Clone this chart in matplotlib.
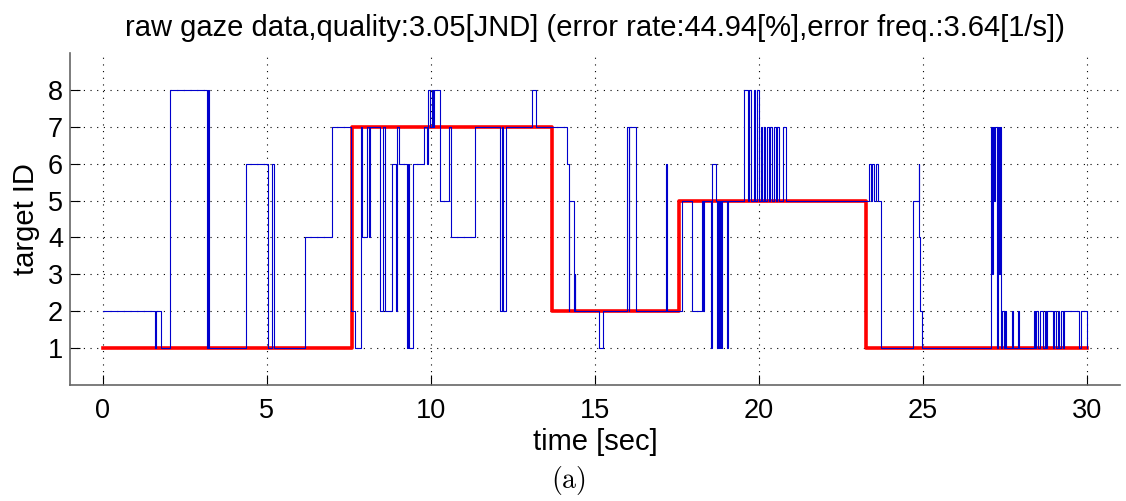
import numpy as np
import matplotlib
matplotlib.use('Agg')
import matplotlib.pyplot as plt

plt.rcParams['font.family'] = ['Liberation Sans', 'DejaVu Sans']
plt.rcParams['mathtext.fontset'] = 'cm'

# raw gaze data (step changes: time [sec], target ID)
gaze_t = [0.00, 1.58, 1.62, 1.78, 2.04, 3.18, 3.20, 3.25, 4.37, 5.02, 5.16, 5.23,
          6.17, 6.99, 7.55, 7.67, 7.87, 7.90, 8.05, 8.10, 8.15, 8.46, 8.55, 8.60,
          8.80, 8.93, 8.97, 9.02, 9.26, 9.30, 9.33, 9.44, 9.80, 9.87, 9.90, 9.98,
          10.02, 10.06, 10.10, 10.27, 10.56, 10.60, 11.35, 12.10, 12.15, 12.18,
          12.30, 13.07, 13.21, 14.15, 14.20, 14.22, 14.35, 14.38, 14.40, 15.12,
          15.24, 15.98, 16.02, 16.05, 16.26, 17.15, 17.18, 17.66, 17.94, 18.26,
          18.30, 18.33, 18.52, 18.57, 18.70, 18.73, 18.76, 18.79, 18.82, 18.85,
          18.88, 19.02, 19.05, 19.53, 19.67, 19.70, 19.75, 19.85, 19.88, 19.93,
          20.00, 20.05, 20.10, 20.14, 20.18, 20.24, 20.30, 20.34, 20.40, 20.46,
          20.52, 20.56, 20.60, 20.72, 20.82, 23.35, 23.40, 23.44, 23.50, 23.55,
          23.61, 23.71, 24.68, 24.86, 24.88, 24.90, 24.96, 27.06, 27.10, 27.13,
          27.17, 27.20, 27.24, 27.27, 27.30, 27.33, 27.37, 27.40, 27.45, 27.48,
          27.52, 27.70, 27.75, 27.90, 27.93, 28.38, 28.42, 28.45, 28.50, 28.55,
          28.65, 28.70, 28.74, 28.78, 28.95, 29.00, 29.05, 29.10, 29.15, 29.20,
          29.25, 29.30, 29.75, 29.80, 29.98]
gaze_id = [2, 1, 2, 1, 8, 1, 8, 1, 6, 1, 6, 1,
           4, 7, 2, 1, 7, 4, 7, 4, 7, 2, 7, 2,
           6, 2, 7, 6, 1, 6, 1, 6, 7, 6, 8, 7,
           8, 7, 8, 5, 7, 4, 7, 2, 7, 2,
           7, 8, 7, 6, 2, 5, 2, 3, 2, 1,
           2, 7, 2, 7, 2, 6, 2, 5, 2, 5,
           2, 5, 1, 6, 5, 1, 5, 1, 5, 1,
           5, 1, 5, 8, 5, 8, 5, 8, 5, 8,
           5, 7, 5, 7, 5, 7, 5, 7, 5, 7,
           5, 7, 5, 7, 5, 6, 5, 6, 5, 6,
           5, 1, 5, 6, 4, 2, 1, 7, 3, 7,
           5, 7, 1, 7, 3, 7, 1, 2, 1, 2,
           1, 2, 1, 2, 1, 2, 1, 2, 1, 2,
           1, 2, 1, 2, 1, 2, 1, 2, 1, 2,
           1, 2, 1, 2, 1]

# true target (step changes)
target_t = [0.0, 7.58, 13.69, 17.55, 23.27, 30.0]
target_id = [1, 7, 2, 5, 1, 1]

fig = plt.figure(figsize=(11.26, 5.01), dpi=100)
ax = fig.add_axes([0.0622, 0.2315, 0.9325, 0.6627])

ax.step(target_t, target_id, where='post', color='#ff0000', lw=2.6, zorder=2)
ax.step(gaze_t, gaze_id, where='post', color='#0000cc', lw=0.8, zorder=3)

ax.set_xlim(-1, 31)
ax.set_ylim(0, 9)
ax.set_xticks(np.arange(0, 31, 5))
ax.set_yticks(np.arange(1, 9))
ax.grid(True, color='black', linestyle=(0, (1, 5)), linewidth=0.8)
for s in ['top', 'right']:
    ax.spines[s].set_visible(False)
for s in ['left', 'bottom']:
    ax.spines[s].set_color('#666666')
    ax.spines[s].set_linewidth(1.2)
ax.tick_params(direction='in', length=7, labelsize=19.5)
ax.tick_params(axis='x', pad=9)
ax.tick_params(axis='y', pad=5)

ax.set_title('raw gaze data,quality:3.05[JND] (error rate:44.94[%],error freq.:3.64[1/s])',
             fontsize=21, pad=12)
ax.set_xlabel('time [sec]', fontsize=21, labelpad=3)
ax.set_ylabel('target ID', fontsize=21, labelpad=6)
fig.text(0.505, 0.04, r'$\mathrm{(a)}$', ha='center', va='center', fontsize=20)

fig.savefig('out.png', dpi=100)
